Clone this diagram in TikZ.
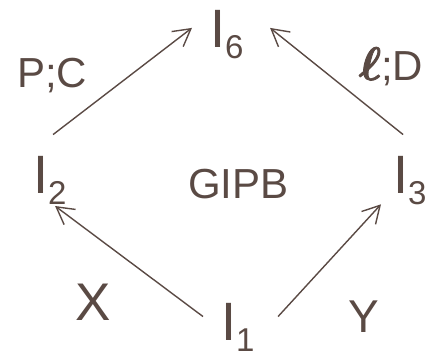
\RequirePackage{fix-cm}
\documentclass[tikz,border=0pt]{standalone}
\usepackage{fontspec}
\setmainfont{Liberation Sans}
\usetikzlibrary{arrows.meta}
\definecolor{ink}{RGB}{90,74,68}
% I with a lowered digit as subscript
\newcommand{\Isub}[1]{{\fontsize{54}{54}\selectfont I}\raisebox{-11pt}{\fontsize{33}{33}\selectfont #1}}
% heavy script ell: glyph outline filled and stroked
\newcommand{\heavyell}{\special{pdf:literal direct 2 Tr 0.9 w}{\fontsize{47}{47}\selectfont\boldmath$\ell$}\special{pdf:literal direct 0 Tr}}
\begin{document}
\begin{tikzpicture}[x=1pt,y=-1pt,
  lbl/.style={inner sep=0pt,outer sep=0pt,anchor=base west,text=ink},
  arr/.style={draw=ink,line width=1.4pt,-{Straight Barb[length=17pt,width=19pt,line width=1.4pt]}}]
\useasboundingbox (0,0) rectangle (426,356);
% level nodes
\node[lbl] (i6) at (210,47) {\Isub{6}};
\node[lbl] (i2) at (33,193) {\Isub{2}};
\node[lbl] (i3) at (393,193) {\Isub{3}};
\node[lbl] (i1) at (221,340) {\Isub{1}};
% labels
\node[lbl,font=\fontsize{42}{42}\selectfont] (g) at (188,198) {GIPB};
\node[lbl,font=\fontsize{42}{42}\selectfont] (pc) at (17,87) {P;C};
\node[lbl,font=\fontsize{42}{42}\selectfont] (ld) at (359,80) {\heavyell{};D};
\node[lbl,font=\fontsize{53}{53}\selectfont] (x) at (75,320) {X};
\node[lbl,font=\fontsize{46}{46}\selectfont] (y) at (348,332) {Y};
% connectors
\draw[arr] ([shift={(3.4,-21.3)}]i2.north) -- ([shift={(-18,-6.2)}]i6.west);
\draw[arr] ([shift={(-6.6,-21.3)}]i3.north) -- ([shift={(26.7,-6.2)}]i6.east);
\draw[arr] ([shift={(-18,13.7)}]i1.north west) -- ([shift={(-11.3,2)}]i2.south east);
\draw[arr] ([shift={(23.7,13.7)}]i1.north east) -- ([shift={(-12,0)}]i3.south west);
\end{tikzpicture}
\end{document}
